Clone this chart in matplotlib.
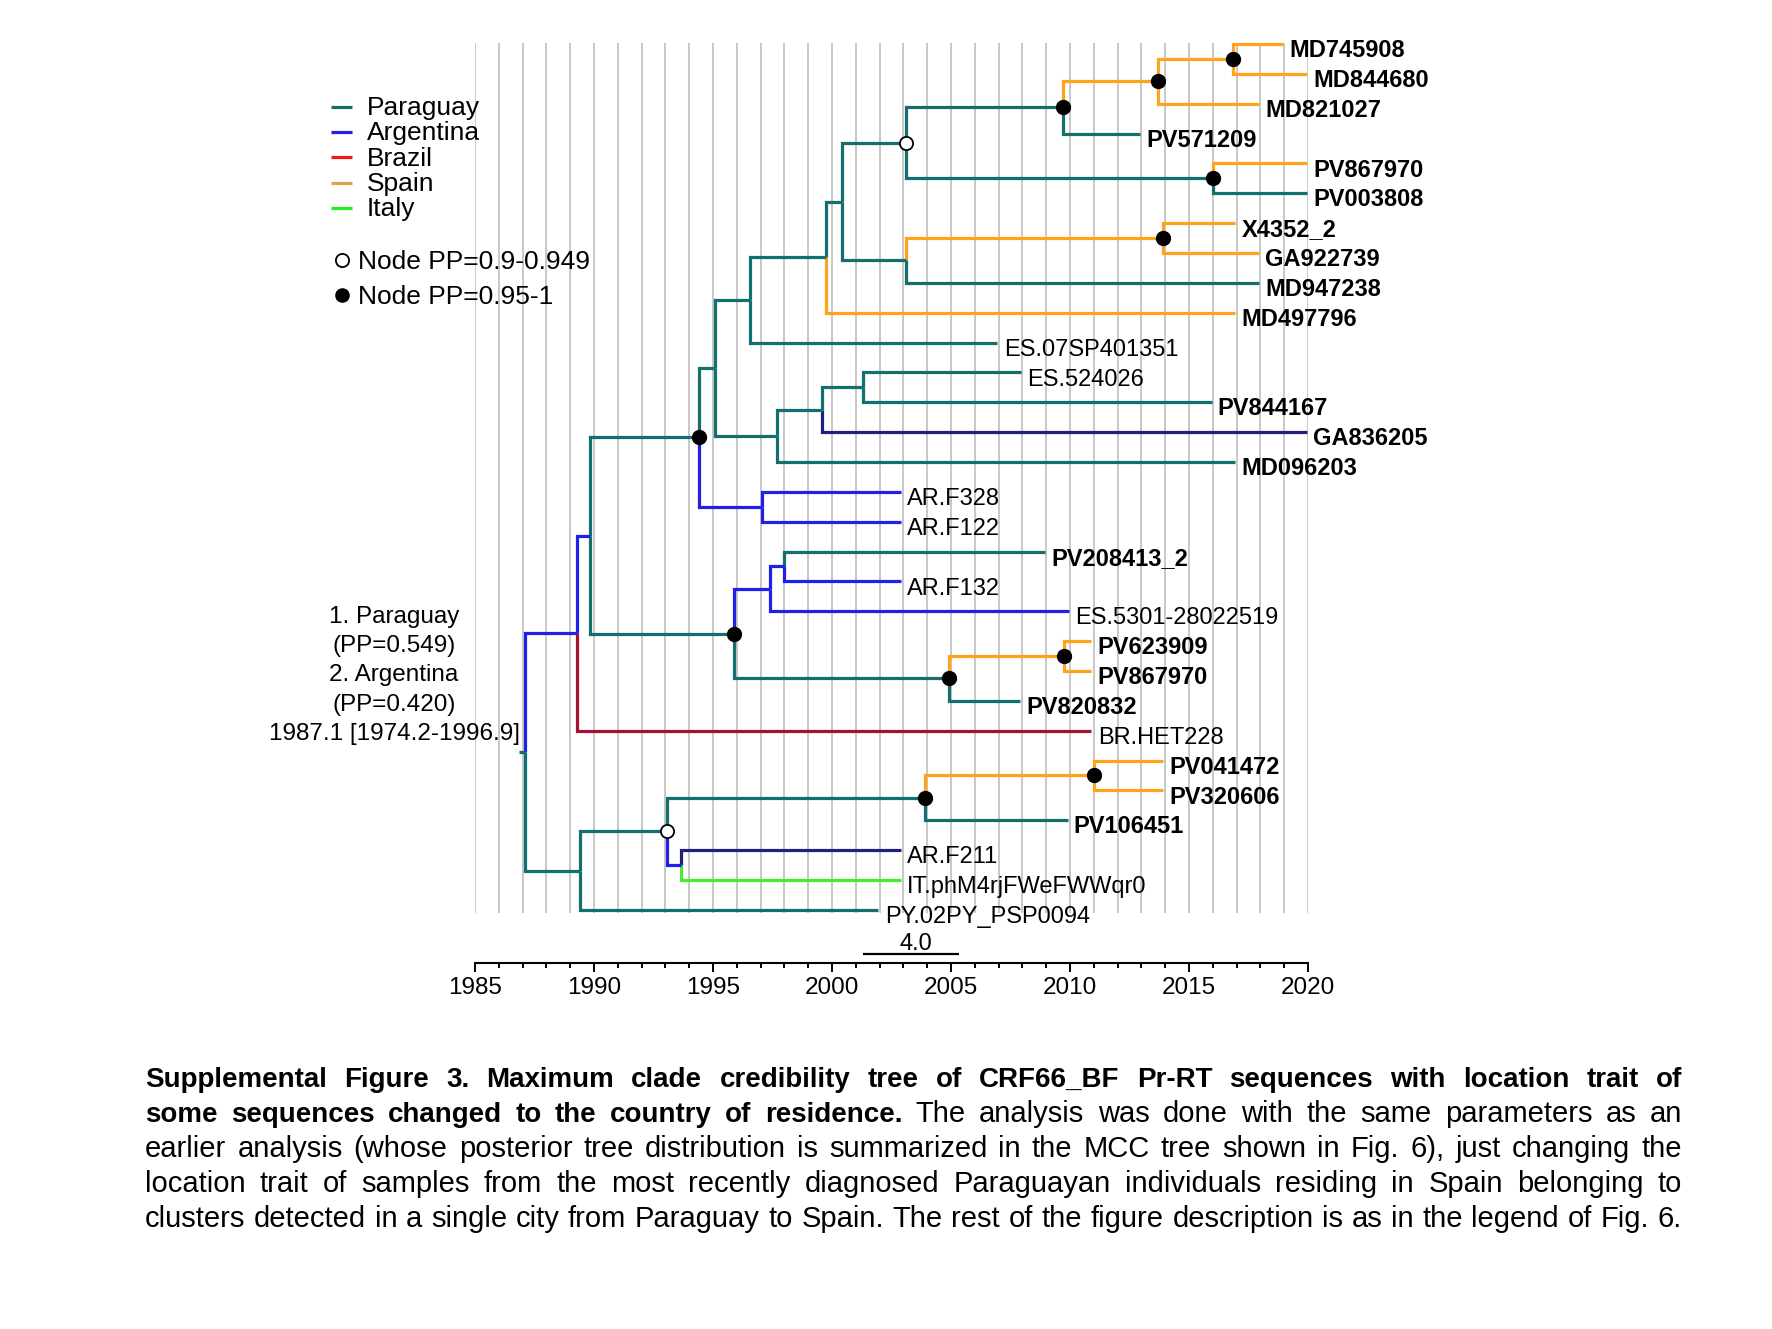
import matplotlib
matplotlib.use("Agg")
import matplotlib.pyplot as plt
from matplotlib.ticker import MultipleLocator

plt.rcParams["font.family"] = ["Liberation Sans", "DejaVu Sans"]

# -------------------------------------------------
# Tree data
# -------------------------------------------------

tip_names = [
    "MD745908", "MD844680", "MD821027", "PV571209", "PV867970",
    "PV003808", "X4352_2", "GA922739", "MD947238", "MD497796",
    "ES.07SP401351", "ES.524026", "PV844167", "GA836205", "MD096203",
    "AR.F328", "AR.F122", "PV208413_2", "AR.F132", "ES.5301-28022519",
    "PV623909", "PV867970", "PV820832", "BR.HET228", "PV041472",
    "PV320606", "PV106451", "AR.F211", "IT.phM4rjFWeFWWqr0", "PY.02PY_PSP0094",
]
tip_dates = [
    2018.95, 2019.95, 2017.95, 2012.95, 2019.95,
    2019.95, 2016.95, 2017.95, 2017.95, 2016.95,
    2006.95, 2007.95, 2015.95, 2019.95, 2016.95,
    2002.9, 2002.9, 2008.95, 2002.9, 2009.95,
    2010.9, 2010.9, 2007.9, 2010.9, 2013.9,
    2013.9, 2009.9, 2002.9, 2002.9, 2001.95,
]
tip_locations = [
    "Spain", "Spain", "Spain", "Paraguay", "Spain",
    "Paraguay", "Spain", "Spain", "Paraguay", "Spain",
    "Paraguay", "Paraguay", "Paraguay", "Argentina", "Paraguay",
    "Argentina", "Argentina", "Paraguay", "Argentina", "Argentina",
    "Spain", "Spain", "Paraguay", "Brazil", "Spain",
    "Spain", "Paraguay", "Argentina", "Italy", "Paraguay",
]
tip_bold = [
    True, True, True, True, True,
    True, True, True, True, True,
    False, False, True, True, True,
    False, False, True, False, False,
    True, True, True, False, True,
    True, True, False, False, False,
]

# internal nodes, children first; ints are tip rows
node_ids = ["A", "B", "C", "D", "E", "F", "G", "H", "I", "J",
            "K", "L", "M", "N", "P", "O", "Q", "R", "S", "T",
            "U", "V", "W", "BB", "Z", "AA", "Y", "X", "root"]
node_children = [
    (0, 1), ("A", 2), ("B", 3), (4, 5), ("C", "D"),
    (6, 7), ("F", 8), ("E", "G"), ("H", 9), ("I", 10),
    (11, 12), ("K", 13), ("L", 14), ("J", "M"), (15, 16),
    ("N", "P"), (17, 18), ("Q", 19), (20, 21), ("S", 22),
    ("R", "T"), ("O", "U"), ("V", 23), (24, 25), ("BB", 26),
    (27, 28), ("Z", "AA"), ("Y", 29), ("W", "X"),
]
node_dates = [
    2016.85, 2013.7, 2009.7, 2016.0, 2003.1,
    2013.9, 2003.1, 2000.4, 1999.75, 1996.55,
    2001.3, 1999.6, 1997.7, 1995.1, 1997.05,
    1994.4, 1998.0, 1997.4, 2009.75, 2004.9,
    1995.9, 1989.85, 1989.3, 2011.0, 2003.9,
    1993.65, 1993.05, 1989.4, 1987.1,
]
node_locations = [
    "Spain", "Spain", "Paraguay", "Paraguay", "Paraguay",
    "Spain", "Paraguay", "Paraguay", "Paraguay", "Paraguay",
    "Paraguay", "Paraguay", "Paraguay", "Paraguay", "Argentina",
    "Paraguay", "Argentina", "Argentina", "Spain", "Paraguay",
    "Paraguay", "Argentina", "Argentina", "Spain", "Paraguay",
    "Argentina", "Paraguay", "Paraguay", "Paraguay",
]
node_pp = [
    "0.95-1", "0.95-1", "0.95-1", "0.95-1", "0.9-0.949",
    "0.95-1", None, None, None, None,
    None, None, None, None, None,
    "0.95-1", None, None, "0.95-1", "0.95-1",
    "0.95-1", None, None, "0.95-1", "0.95-1",
    None, "0.9-0.949", None, None,
]

root_text = ["1. Paraguay", "(PP=0.549)", "2. Argentina", "(PP=0.420)",
             "1987.1 [1974.2-1996.9]"]

legend_locations = ["Paraguay", "Argentina", "Brazil", "Spain", "Italy"]
legend_pp = ["0.9-0.949", "0.95-1"]

scale_bar_length = 4.0

caption_lines = [
    [("Supplemental Figure 3. Maximum clade credibility tree of CRF66_BF "
      "Pr-RT sequences with location trait of", True)],
    [("some sequences changed to the country of residence.", True),
     ("The analysis was done with the same parameters as an", False)],
    [("earlier analysis (whose posterior tree distribution is summarized in "
      "the MCC tree shown in Fig. 6), just changing the", False)],
    [("location trait of samples from the most recently diagnosed Paraguayan "
      "individuals residing in Spain belonging to", False)],
    [("clusters detected in a single city from Paraguay to Spain. The rest of "
      "the figure description is as in the legend of Fig. 6.", False)],
]

# -------------------------------------------------
# Colours
# -------------------------------------------------

branch_colours = {
    "Paraguay": "#13706f",
    "Argentina": "#2020e6",
    "Brazil": "#a5122d",
    "Spain": "#ffa31a",
    "Italy": "#45ec30",
}
legend_colours = {
    "Paraguay": "#13706f",
    "Argentina": "#2020e6",
    "Brazil": "#f01818",
    "Spain": "#dba443",
    "Italy": "#22ee22",
}
dark_argentina = "#20207f"
dark_tips = {"GA836205", "AR.F211"}

# -------------------------------------------------
# Layout of the tree (node y = middle of first/last child)
# -------------------------------------------------

pos = {}
loc = {}
for i, name in enumerate(tip_names):
    pos[i] = (tip_dates[i], float(i))
    loc[i] = tip_locations[i]
for nid, kids, d, l in zip(node_ids, node_children, node_dates, node_locations):
    ys = [pos[k][1] for k in kids]
    pos[nid] = (d, (ys[0] + ys[-1]) / 2)
    loc[nid] = l


def colour_of(key):
    if isinstance(key, int) and tip_names[key] in dark_tips:
        return dark_argentina
    return branch_colours[loc[key]]


# -------------------------------------------------
# Figure
# -------------------------------------------------

W, H = 1772, 1329
fig = plt.figure(figsize=(W / 100, H / 100), dpi=100)
ax = fig.add_axes([475 / W, 1 - 963 / H, 833 / W, 963 / H])
ax.set_xlim(1985, 2020)
ax.set_ylim(30.78, -1.4735)

# grid
ax.vlines(range(1985, 2021), -0.05, 29.1, color="#c8c8c8", lw=1.4, zorder=0)

# branches
lw = 2.3
for nid, kids in zip(node_ids, node_children):
    px, py = pos[nid]
    for k in kids:
        cx, cy = pos[k]
        ax.plot([px, px, cx], [py, cy, cy], color=colour_of(k), lw=lw,
                solid_capstyle="butt", solid_joinstyle="miter", zorder=2)

rx, ry = pos["root"]
ax.plot([rx - 0.25, rx], [ry, ry], color=branch_colours["Paraguay"], lw=lw,
        solid_capstyle="butt", zorder=2)

# node support
for nid, pp in zip(node_ids, node_pp):
    x, y = pos[nid]
    if pp == "0.95-1":
        ax.plot(x, y, "o", ms=10, color="black", zorder=4)
    elif pp == "0.9-0.949":
        ax.plot(x, y, "o", ms=9.5, mfc="white", mec="black", mew=1.3, zorder=4)

# tip labels
for i, name in enumerate(tip_names):
    ax.annotate(name, pos[i], xytext=(4.5, -9.5), textcoords="offset points",
                ha="left", va="baseline", fontsize=17,
                fontweight="bold" if tip_bold[i] else "normal",
                annotation_clip=False, zorder=5)

# root annotation
for j, line in enumerate(root_text):
    yb = ry - 0.4 - (len(root_text) - 1 - j) * 0.98
    ax.text(1981.6, yb, line, ha="center", va="baseline", fontsize=17.5)

# -------------------------------------------------
# Legend
# -------------------------------------------------

for j, name in enumerate(legend_locations):
    yy = 2.12 + j * 0.84
    ax.plot([1978.93, 1979.85], [yy, yy], color=legend_colours[name], lw=2.3,
            solid_capstyle="butt", clip_on=False)
    ax.annotate(name, (1980.45, yy), xytext=(0, -5.8), textcoords="offset points",
                ha="left", va="baseline", fontsize=19, annotation_clip=False)

for j, pp in enumerate(legend_pp):
    yy = 7.23 + j * 1.18
    if pp == "0.95-1":
        ax.plot(1979.4, yy, "o", ms=9.5, color="black", clip_on=False)
    else:
        ax.plot(1979.4, yy, "o", ms=9.5, mfc="white", mec="black", mew=1.3,
                clip_on=False)
    ax.annotate("Node PP=" + pp, (1980.1, yy), xytext=(0, -6.3),
                textcoords="offset points", ha="left", va="baseline",
                fontsize=19, annotation_clip=False)

# -------------------------------------------------
# Time axis and scale bar
# -------------------------------------------------

for side in ["left", "right", "top"]:
    ax.spines[side].set_visible(False)
ax.spines["bottom"].set_linewidth(1.5)
ax.set_yticks([])
ax.xaxis.set_major_locator(MultipleLocator(5))
ax.xaxis.set_minor_locator(MultipleLocator(1))
ax.tick_params(axis="x", which="major", direction="out", length=6.5, width=1.4,
               labelsize=17.5, pad=3.5)
ax.tick_params(axis="x", which="minor", direction="out", length=3.6, width=1.4)

bar_start = 2001.32
bar_y = 30.48
ax.plot([bar_start, bar_start + scale_bar_length], [bar_y, bar_y], color="black",
        lw=1.6, clip_on=False, solid_capstyle="butt")
ax.text(bar_start + scale_bar_length / 2 + 0.2, bar_y - 0.12,
        f"{scale_bar_length:.1f}", ha="center", va="baseline", fontsize=17)

# -------------------------------------------------
# Caption (justified)
# -------------------------------------------------

renderer = fig.canvas.get_renderer()
cap_left, cap_right = 145, 1682
cap_baselines = [1087, 1122, 1157, 1192, 1227]
for line, base in zip(caption_lines, cap_baselines):
    words = []
    for seg, bold in line:
        for w in seg.split():
            words.append((w, bold))
    texts = [fig.text(0, 1 - base / H, w, va="baseline",
                      fontsize=20 if b else 21,
                      fontweight="bold" if b else "normal") for w, b in words]
    widths = [t.get_window_extent(renderer).width for t in texts]
    gap = (cap_right - cap_left - sum(widths)) / (len(words) - 1)
    x = cap_left
    for t, w in zip(texts, widths):
        t.set_x(x / W)
        x += w + gap

fig.savefig("out.png", dpi=100, facecolor="white")
